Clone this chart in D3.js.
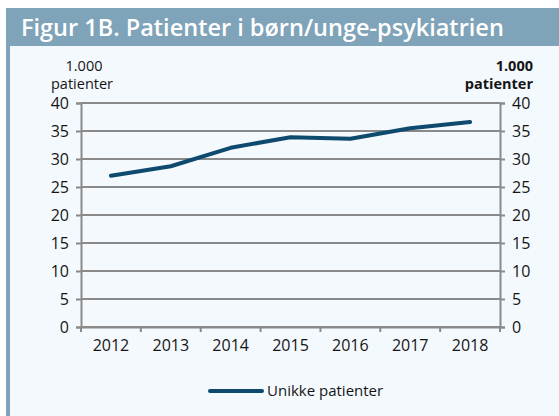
<!DOCTYPE html>
<html>
<head>
<meta charset="utf-8">
<script src="https://cdn.jsdelivr.net/npm/d3@7"></script>
<style>
  body { margin: 0; background: #fff; }
  svg { display: block; font-family: "Open Sans", sans-serif; }
</style>
</head>
<body>
<div id="chart"></div>
<script>
// data
const years = ["2012", "2013", "2014", "2015", "2016", "2017", "2018"];
const patients = [27.0, 28.7, 32.0, 33.9, 33.6, 35.5, 36.6];
const yTicks = [0, 5, 10, 15, 20, 25, 30, 35, 40];

const W = 559, H = 416;
const svg = d3.select("#chart").append("svg").attr("width", W).attr("height", H);

// frame + title bar
svg.append("rect").attr("x", 6).attr("y", 8).attr("width", W - 6).attr("height", H - 8).attr("fill", "#7fa3b8");
svg.append("rect").attr("x", 10).attr("y", 46).attr("width", W - 10).attr("height", H - 46).attr("fill", "#f4f9fd");
svg.append("text").attr("x", 21).attr("y", 36)
  .attr("fill", "#fff").attr("font-size", 23.5).attr("font-weight", 600)
  .text("Figur 1B. Patienter i børn/unge-psykiatrien");

const m = {left: 81, right: 500, top: 103, bottom: 327};
const x = d3.scaleBand().domain(years).range([m.left, m.right]);
const y = d3.scaleLinear().domain([0, 40]).range([m.bottom, m.top]);

const grey = "#8a8a8a";
const ink = "#151515";

// gridlines
svg.append("g").selectAll("line").data(yTicks).join("line")
  .attr("x1", m.left).attr("x2", m.right)
  .attr("y1", d => y(d)).attr("y2", d => y(d))
  .attr("stroke", grey).attr("stroke-width", 2);

// left axis
const left = svg.append("g").attr("transform", `translate(${m.left},0)`)
  .call(d3.axisLeft(y).tickValues(yTicks).tickSize(5).tickPadding(7));
// right axis
const right = svg.append("g").attr("transform", `translate(${m.right},0)`)
  .call(d3.axisRight(y).tickValues(yTicks).tickSize(5).tickPadding(7));
// bottom axis, ticks at band edges
const bottom = svg.append("g").attr("transform", `translate(0,${m.bottom})`)
  .call(d3.axisBottom(x).tickSize(0).tickPadding(13));
svg.append("g").selectAll("line").data(years.concat(["end"])).join("line")
  .attr("x1", (d, i) => m.left + i * x.bandwidth())
  .attr("x2", (d, i) => m.left + i * x.bandwidth())
  .attr("y1", m.bottom).attr("y2", m.bottom + 5)
  .attr("stroke", grey).attr("stroke-width", 2);

[left, right, bottom].forEach(g => {
  g.select(".domain").attr("stroke", grey).attr("stroke-width", 2);
  g.selectAll(".tick line").attr("stroke", grey).attr("stroke-width", 2);
  g.selectAll("text").attr("fill", ink).attr("font-size", 16)
    .attr("font-family", "Open Sans, sans-serif");
});

// axis unit labels
const unitL = svg.append("text").attr("text-anchor", "middle")
  .attr("font-size", 14.5).attr("fill", ink);
unitL.append("tspan").attr("x", 84).attr("y", 71).text("1.000");
unitL.append("tspan").attr("x", 82).attr("y", 89).text("patienter");
const unitR = svg.append("text").attr("text-anchor", "end")
  .attr("font-size", 14.5).attr("font-weight", 700).attr("fill", ink);
unitR.append("tspan").attr("x", 533).attr("y", 71).text("1.000");
unitR.append("tspan").attr("x", 533).attr("y", 89).text("patienter");

// line
const lineColor = "#0d4a6e";
const line = d3.line()
  .x((d, i) => x(years[i]) + x.bandwidth() / 2)
  .y(d => y(d));
svg.append("path").datum(patients)
  .attr("d", line).attr("fill", "none")
  .attr("stroke", lineColor).attr("stroke-width", 4)
  .attr("stroke-linecap", "round").attr("stroke-linejoin", "round");

// legend
svg.append("line").attr("x1", 210).attr("x2", 262).attr("y1", 391).attr("y2", 391)
  .attr("stroke", lineColor).attr("stroke-width", 4).attr("stroke-linecap", "round");
svg.append("text").attr("x", 267).attr("y", 396).attr("font-size", 15)
  .attr("fill", ink).text("Unikke patienter");
</script>
</body>
</html>
